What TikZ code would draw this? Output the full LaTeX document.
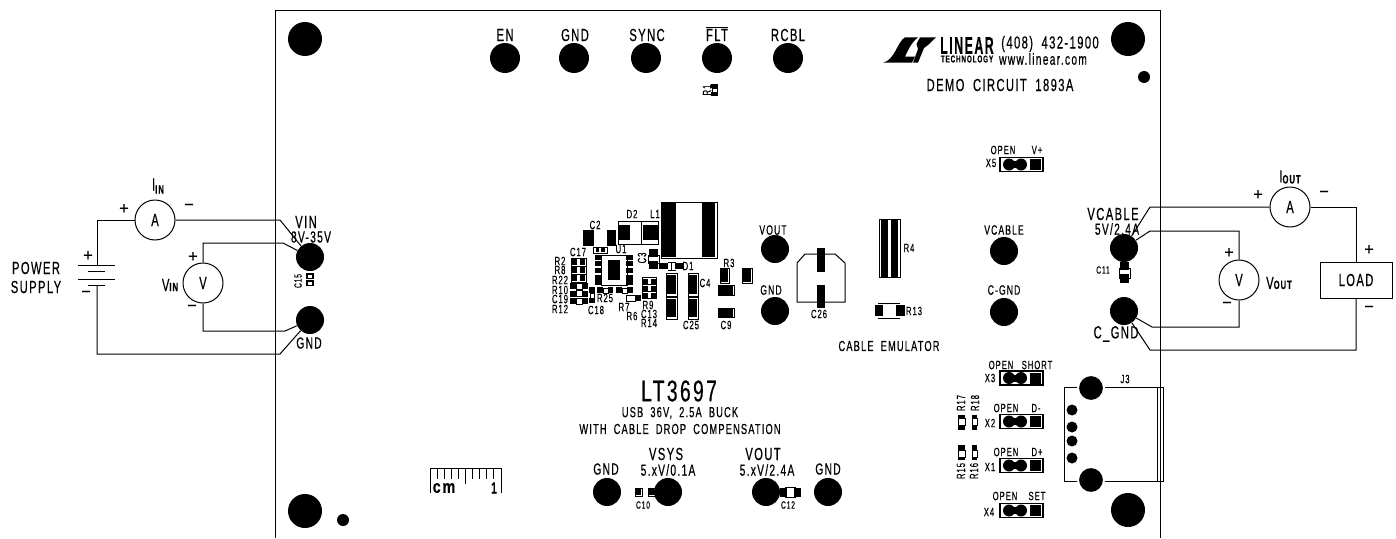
\documentclass[tikz,border=0pt]{standalone}
\usepackage{fontspec}
\setmainfont[FakeStretch=0.64,LetterSpace=8,WordSpace=1.9,FakeBold=0.4]{Liberation Sans}
\tikzset{
	testpad/.style={circle,fill=black,inner sep=0pt,minimum size=28pt},
	toppad/.style={circle,fill=black,inner sep=0pt,minimum size=30pt},
	hole/.style={circle,fill=black,inner sep=0pt,minimum size=34pt},
	dot/.style={circle,fill=black,inner sep=0pt,minimum size=12pt},
	meter/.style={circle,draw,line width=1pt,inner sep=0pt,minimum size=40pt,font=\fontsize{17.5}{18}\selectfont},
	lbl/.style={inner sep=0pt,font=\fontsize{17.5}{18}\selectfont},
	lblV/.style={inner sep=0pt,font=\fontsize{16}{16}\selectfont},
	lblS/.style={inner sep=0pt,font=\fontsize{14.5}{15}\selectfont},
	lblM/.style={inner sep=0pt,font=\fontsize{13.5}{14}\selectfont},
	lblC/.style={inner sep=0pt,font=\fontsize{12}{12}\selectfont},
	lblT/.style={inner sep=0pt,font=\fontsize{10.5}{11}\selectfont},
	sign/.style={inner sep=0pt,xscale=1.5,font=\fontsize{17}{17}\selectfont},
	wire/.style={line width=1pt},
	outl/.style={line width=.9pt}
}
\newcommand{\subtxt}[1]{{\fontsize{12}{12}\selectfont\bfseries #1}}
\begin{document}
\begin{tikzpicture}[x=1pt,y=-1pt]
	\useasboundingbox (0,0) rectangle (1396,538);
	% board edge
	\draw [line width=1pt] (275,538)--(275,10)--(1160,10)--(1160,538);
	\node [hole] (holeTL) at (305,39) {};
	\node [hole] (holeTR) at (1128,39) {};
	\node [hole] (holeBL) at (305,511) {};
	\node [hole] (holeBR) at (1128,510) {};
	\node [dot] (dotTR) at (1144,77) {};
	\node [dot] (dotBL) at (343,520) {};
	% top row
	\node [toppad] (padEN) at (505,58) {};
	\node [toppad] (padGNDa) at (574,58) {};
	\node [toppad] (padSYNC) at (646,58) {};
	\node [toppad] (padFLT) at (717,58) {};
	\node [toppad] (padRCBL) at (788,58) {};
	\node [lbl] (lblEN) at (505,35) {EN};
	\node [lbl] (lblGNDa) at (575,35) {GND};
	\node [lbl] (lblSYNC) at (647,35) {SYNC};
	\node [lbl] (lblFLT) at (717,34) {$\overline{\mbox{FLT}}$};
	\node [lbl] (lblRCBL) at (788,35) {RCBL};
	\fill (711,84) rectangle (718,88);
	\fill (711,92) rectangle (718,96);
	\draw [outl] (712,88) rectangle (717,92);
	\node [lblC,rotate=90] (lblRa) at (707,90) {R1};
	% logo
	\fill (883,62.7) .. controls (895,60) and (897,42) .. (905,37.3)--(918,37.3) .. controls (911,43) and (908,50) .. (905,56.7)--(915,56.7)--(912,62.7)--cycle;
	\fill (920,37.3)--(936,37.3)--(928,45)--(924,48)--(918,62.7)--(913,62.7)--(918,49)--(916.5,44)--cycle;
	\node [inner sep=0pt,xscale=.8,font=\fontsize{24}{24}\selectfont\bfseries] (lblLINEAR) at (967,45.5) {LINEAR};
	\node [inner sep=0pt,font=\fontsize{10}{10}\selectfont\bfseries] (lblTECH) at (967,59) {TECHNOLOGY};
	\node [lbl] (lblPhone) at (1050,44) {(408) 432-1900};
	\node [inner sep=0pt,font=\fontsize{16}{16}\selectfont] (lblWeb) at (1043,59) {www.linear.com};
	\node [lbl] (lblDemo) at (1000,85) {DEMO CIRCUIT 1893A};
	% left hookup
	\node [testpad] (padVIN) at (310,257) {};
	\node [testpad] (padGNDb) at (310,320) {};
	\node [meter] (ammIN) at (155,220) {A};
	\node [meter] (volIN) at (203,283) {V};
	\coordinate (batTop) at (97,265);
	\coordinate (batBot) at (97,285);
	\coordinate (bendTL) at (97,220);
	\coordinate (bendBL) at (97,354);
	\coordinate (bendA) at (280,220);
	\coordinate (bendB) at (280,354);
	\coordinate (bendC) at (203,243);
	\coordinate (bendD) at (283,243);
	\coordinate (bendE) at (203,331);
	\coordinate (bendF) at (285,331);
	\draw [wire] (ammIN)--(bendTL)--(batTop);
	\draw [wire] (ammIN)--(bendA)--(padVIN);
	\draw [wire] (batBot)--(bendBL)--(bendB)--(padGNDb);
	\draw [wire] (volIN)--(bendC)--(bendD)--(padVIN);
	\draw [wire] (volIN)--(bendE)--(bendF)--(padGNDb);
	\draw [wire] (78,265)--(115,265);
	\draw [wire] (88,271)--(105,271);
	\draw [wire] (78,279)--(115,279);
	\draw [wire] (88,285)--(105,285);
	\node [lbl] (lblPower) at (36,268) {POWER};
	\node [lbl] (lblSupply) at (36,287) {SUPPLY};
	\node [sign] (signA) at (88,256) {+};
	\node [sign] (signB) at (86,294) {−};
	\node [sign] (signC) at (124,209) {+};
	\node [sign] (signD) at (189,207) {−};
	\node [sign] (signE) at (193,257) {+};
	\node [sign] (signF) at (192,308) {−};
	\node [lbl] (lblVi) at (170,285) {V\subtxt{IN}};
	\node [lbl] (lblIi) at (158,186) {I\raisebox{-3pt}{\subtxt{IN}}};
	\node [lbl] (lblVIN) at (306,222) {VIN};
	\node [lblV] (lblVr) at (311,237) {8V-35V};
	\node [lblV] (lblGNDb) at (309,343) {GND};
	\node [lblT,rotate=90] (lblCa) at (298,281) {C15};
	\draw [line width=1.4pt] (307,274) rectangle (313,278.5);
	\draw [line width=1.4pt] (307,281) rectangle (313,285.5);
	% right hookup
	\node [testpad] (padVCABLE) at (1124,248) {};
	\node [testpad] (padCGND) at (1124,311) {};
	\node [meter] (ammOUT) at (1290,207) {A};
	\node [meter] (volOUT) at (1239,280) {V};
	\node [draw,line width=1pt,minimum width=72pt,minimum height=36pt,inner sep=0pt,lbl] (load) at (1356,280) {LOAD};
	\coordinate (bendG) at (1150,207);
	\coordinate (bendH) at (1356,207);
	\coordinate (bendI) at (1356,350);
	\coordinate (bendJ) at (1150,350);
	\coordinate (bendK) at (1239,231);
	\coordinate (bendL) at (1150,231);
	\coordinate (bendM) at (1239,327);
	\coordinate (bendN) at (1152,327);
	\draw [wire] (ammOUT)--(bendG)--(padVCABLE);
	\draw [wire] (ammOUT)--(bendH)--(load);
	\draw [wire] (load)--(bendI)--(bendJ)--(padCGND);
	\draw [wire] (volOUT)--(bendK)--(bendL)--(padVCABLE);
	\draw [wire] (volOUT)--(bendM)--(bendN)--(padCGND);
	\node [sign] (signG) at (1258,195) {+};
	\node [sign] (signH) at (1324,194) {−};
	\node [sign] (signI) at (1229,253) {+};
	\node [sign] (signJ) at (1227,305) {−};
	\node [sign] (signK) at (1369,250) {+};
	\node [sign] (signL) at (1369,309) {−};
	\node [lbl] (lblVo) at (1279,283) {V\subtxt{OUT}};
	\node [lbl] (lblIo) at (1290,177) {I\raisebox{-1pt}{\subtxt{OUT}}};
	\node [lbl] (lblVCb) at (1113,214) {VCABLE};
	\node [lblV] (lblVCr) at (1117,229) {5V/2.4A};
	\node [lbl] (lblCG) at (1116,334) {C\_GND};
	\node [lblT] (lblCb) at (1103,270) {C11};
	\fill (1120,262) rectangle (1129,270);
	\fill (1120,274) rectangle (1129,283);
	\draw [outl] (1119,268) rectangle (1130,278);
	% switcher area
	\draw [line width=1pt] (661,202) rectangle (717,258);
	\fill (662,203) rectangle (676,257);
	\fill (702,203) rectangle (715,257);
	\draw [outl] (618,221) rectangle (641,244);
	\fill (618,225) rectangle (630,240);
	\draw [outl] (641,221) rectangle (658,244);
	\fill (643,225) rectangle (658,240);
	\draw [outl] (583,230) rectangle (615,245);
	\fill (584,231) rectangle (594,245);
	\fill (607,231) rectangle (615,245);
	\fill [white] (594,228) rectangle (607,246);
	\draw [outl] (593,247) rectangle (607,253);
	\fill (596,248) rectangle (599,252);
	\fill (601,248) rectangle (605,252);
	% U1
	\draw [outl] (601,255) rectangle (627,285);
	\fill (608,260) rectangle (620,280);
	\foreach \y in {257,263,270,277,282} {
		\fill (595,\y-2.5) rectangle (602,\y+2.5);
		\fill (626,\y-2.5) rectangle (633,\y+2.5);
	}
	\foreach \y in {262,270,278} {
		\draw [outl] (571,\y-4) rectangle (586,\y+4);
		\fill (572,\y-3) rectangle (577,\y+3);
		\fill (580,\y-3) rectangle (585,\y+3);
	}
	\foreach \y in {286,293.5,301} {
		\fill (570,\y-3) rectangle (576,\y+3);
		\fill (582,\y-3) rectangle (588,\y+3);
		\draw [outl] (576,\y-3) rectangle (582,\y+3);
	}
	\fill (589,287) rectangle (595,293);
	\fill (589,298) rectangle (595,303);
	\draw [outl] (590,293) rectangle (594,298);
	\fill (597,287) rectangle (603,293);
	\fill (608,287) rectangle (613,293);
	\draw [outl] (603,288) rectangle (608,293);
	\fill (616,287) rectangle (622,293);
	\fill (627,287) rectangle (633,293);
	\draw [outl] (622,288) rectangle (627,293);
	\draw [outl] (626,295) rectangle (635,301);
	\fill (635,295) rectangle (641,301);
	\foreach \y in {281,288,295} {
		\draw [outl] (642,\y-3.5) rectangle (656,\y+3.5);
		\fill (643,\y-2.5) rectangle (648,\y+2.5);
		\fill (651,\y-2.5) rectangle (656,\y+2.5);
	}
	\fill (649,249) rectangle (658,257);
	\fill (649,261) rectangle (658,269);
	\draw [outl] (648,255) rectangle (659,263);
	\draw [outl] (671,262)--(671,270);
	\fill (659,263) rectangle (668,269);
	\fill (675,263) rectangle (683,269);
	\draw [outl] (668,262)--(676,262);
	\draw [outl] (668,270)--(676,270);
	\foreach \y/\z in {273/296,297/319} {
		\draw [outl] (666,\y) rectangle (677,\z);
		\fill (667,\y+2) rectangle (676,\z-2);
		\draw [outl] (688,\y) rectangle (698,\z);
		\fill (689,\y+2) rectangle (697,\z-2);
	}
	\draw [outl] (720,268) rectangle (729,283);
	\fill (720,269) rectangle (728,282);
	\draw [outl] (742,268) rectangle (752,283);
	\fill (743,269) rectangle (751,282);
	\draw [outl] (718,285) rectangle (734,295);
	\fill (719,286) rectangle (733,295);
	\draw [outl] (718,308) rectangle (734,317);
	\fill (719,309) rectangle (733,317);
	\node [lblC] (lblC2) at (595,225) {C2};
	\node [lblC] (lblD2) at (632,214) {D2};
	\node [lblC] (lblL1) at (655,214) {L1};
	\node [lblC] (lblC17) at (578,252) {C17};
	\node [lblC] (lblU1) at (621,249) {U1};
	\node [lblC,rotate=90] (lblC3) at (642,258) {C3};
	\node [lblC] (lblD1) at (688,266) {D1};
	\node [lblC] (lblR2) at (560,261) {R2};
	\node [lblC] (lblR8) at (560,270) {R8};
	\node [lblC] (lblR22) at (560,280) {R22};
	\node [lblC] (lblR10) at (560,290) {R10};
	\node [lblC] (lblC19) at (560,299) {C19};
	\node [lblC] (lblR12) at (560,309) {R12};
	\node [lblC] (lblC18) at (596,310) {C18};
	\node [lblC] (lblR25) at (605,298) {R25};
	\node [lblC] (lblR7) at (624,307) {R7};
	\node [lblC] (lblR6) at (632,316) {R6};
	\node [lblC] (lblR9) at (648,305) {R9};
	\node [lblC] (lblC13) at (649,314) {C13};
	\node [lblC] (lblR14) at (649,323) {R14};
	\node [lblC] (lblC25) at (691,325) {C25};
	\node [lblC] (lblC4) at (705,283) {C4};
	\node [lblC] (lblR3) at (729,263) {R3};
	\node [lblC] (lblC9) at (726,325) {C9};
	% cable emulator
	\node [testpad] (padVOUTa) at (775,249) {};
	\node [testpad] (padGNDc) at (775,311) {};
	\node [lblM] (lblVOUTa) at (773,230) {VOUT};
	\node [lblM] (lblGNDc) at (771,290) {GND};
	\draw [line width=1pt] (797,302)--(797,263)--(805,254)--(835,254)--(845,263)--(845,302)--cycle;
	\fill (817,248) rectangle (825,272);
	\fill (817,285) rectangle (825,308);
	\node [lblC] (lblC26) at (819,314) {C26};
	\draw [outl] (879,219) rectangle (900,277);
	\fill (881,220) rectangle (888,277);
	\fill (891,220) rectangle (898,277);
	\node [lblC] (lblR4) at (909,248) {R4};
	\fill (875,305) rectangle (883,316);
	\fill (896,305) rectangle (905,316);
	\draw [outl] (878,303)--(900,303);
	\draw [outl] (878,318)--(900,318);
	\node [lblC] (lblR13) at (914,311) {R13};
	\node [lblS] (lblCable) at (889,346) {CABLE EMULATOR};
	\node [testpad] (padVCABLEb) at (1004,251) {};
	\node [testpad] (padCGNDb) at (1004,312) {};
	\node [lblM] (lblVCABLEb) at (1004,230) {VCABLE};
	\node [lblM] (lblCGNDb) at (1004,290) {C-GND};
	% jumpers
	\foreach \y in {164.5,378,421.5,465.5,510.5} {
		\draw [line width=1.2pt] (1000,\y-7) rectangle (1043,\y+7);
		\fill (1030,\y-5.5) rectangle (1041,\y+5.5);
		\fill (1009,\y) circle [radius=6];
		\fill (1021,\y) circle [radius=6];
		\fill (1009,\y-3.5) rectangle (1021,\y+3.5);
	}
	\node [lblC] (lblOa) at (1003,150) {OPEN};
	\node [lblC] (lblVp) at (1037,150) {V+};
	\node [lblC] (lblXe) at (991,163) {X5};
	\node [lblC] (lblOb) at (1001,365) {OPEN};
	\node [lblC] (lblShort) at (1037,365) {SHORT};
	\node [lblC] (lblXc) at (990,378) {X3};
	\node [lblC] (lblOc) at (1006,408) {OPEN};
	\node [lblC] (lblDm) at (1036,408) {D-};
	\node [lblC] (lblXb) at (990,423) {X2};
	\node [lblC] (lblOd) at (1006,452) {OPEN};
	\node [lblC] (lblDp) at (1037,452) {D+};
	\node [lblC] (lblXa) at (990,467) {X1};
	\node [lblC] (lblOe) at (1005,496) {OPEN};
	\node [lblC] (lblSet) at (1037,496) {SET};
	\node [lblC] (lblXd) at (989,512) {X4};
	% resistors by the usb socket
	\foreach \x/\w in {958/7,972/5} {
		\fill (\x,415) rectangle (\x+\w,418);
		\fill (\x,425) rectangle (\x+\w,430);
		\draw [outl] (\x,418) rectangle (\x+\w,425);
		\fill (\x,445) rectangle (\x+\w,450);
		\fill (\x,457) rectangle (\x+\w,460);
		\draw [outl] (\x,450) rectangle (\x+\w,457);
	}
	\node [lblC,rotate=90] (lblR17) at (961,403) {R17};
	\node [lblC,rotate=90] (lblR18) at (975,403) {R18};
	\node [lblC,rotate=90] (lblR15) at (961,471) {R15};
	\node [lblC,rotate=90] (lblR16) at (974,471) {R16};
	% usb socket
	\draw [line width=1pt] (1163,387)--(1064,387)--(1064,481)--(1163,481)--cycle;
	\draw [outl] (1157,387)--(1157,481);
	\node [circle,fill=black,draw=white,line width=2pt,inner sep=0pt,minimum size=26pt] (padJa) at (1091,388) {};
	\node [circle,fill=black,draw=white,line width=2pt,inner sep=0pt,minimum size=26pt] (padJb) at (1091,480) {};
	\node [circle,fill=black,inner sep=0pt,minimum size=11pt] (pinA) at (1072,410) {};
	\node [circle,fill=black,inner sep=0pt,minimum size=11pt] (pinB) at (1072,427) {};
	\node [circle,fill=black,inner sep=0pt,minimum size=11pt] (pinC) at (1072,441) {};
	\node [circle,fill=black,inner sep=0pt,minimum size=11pt] (pinD) at (1072,458) {};
	\node [lblC] (lblJ3) at (1125,379) {J3};
	% title block
	\node [inner sep=0pt,font=\fontsize{30}{30}\selectfont] (lblTitle) at (679,391) {LT3697};
	\node [lblS] (lblUSB) at (680,413) {USB 36V, 2.5A BUCK};
	\node [lblS] (lblWith) at (680,429) {WITH CABLE DROP COMPENSATION};
	\node [testpad] (padGNDd) at (607,492) {};
	\node [testpad] (padVSYS) at (668,492) {};
	\node [testpad] (padVOUTb) at (766,492) {};
	\node [testpad] (padGNDe) at (828,492) {};
	\node [lblV] (lblGNDd) at (606,469) {GND};
	\node [lbl] (lblVSYS) at (666,454) {VSYS};
	\node [lblV] (lblVSr) at (668,470) {5.xV/0.1A};
	\node [lbl] (lblVOUTb) at (763,454) {VOUT};
	\node [lblV] (lblVOr) at (767,470) {5.xV/2.4A};
	\node [lblV] (lblGNDe) at (828,469) {GND};
	\draw [outl] (635,488) rectangle (642,496);
	\fill (636,489) rectangle (641,495);
	\draw [outl] (648,488) rectangle (655,496);
	\fill (649,489) rectangle (654,495);
	\node [lblT] (lblC10) at (643,505) {C10};
	\fill (780,488) rectangle (787,497);
	\fill (794,488) rectangle (801,497);
	\draw [outl] (785,487)--(796,487);
	\draw [outl] (785,497)--(796,497);
	\node [lblT] (lblC12) at (788,505) {C12};
	% ruler
	\draw [outl] (430,493)--(430,468)--(501,468)--(501,493);
	\foreach \x in {437,444,451,458,472,479,486,493} {
		\draw [outl] (\x,468)--(\x,479);
	}
	\draw [outl] (465,468)--(465,484);
	\node [inner sep=0pt,xscale=1.25,font=\fontsize{18}{18}\selectfont\bfseries] (lblCm) at (444,488) {cm};
	\node [inner sep=0pt,font=\fontsize{16}{16}\selectfont\bfseries] (lblOne) at (494,488) {1};
\end{tikzpicture}
\end{document}
